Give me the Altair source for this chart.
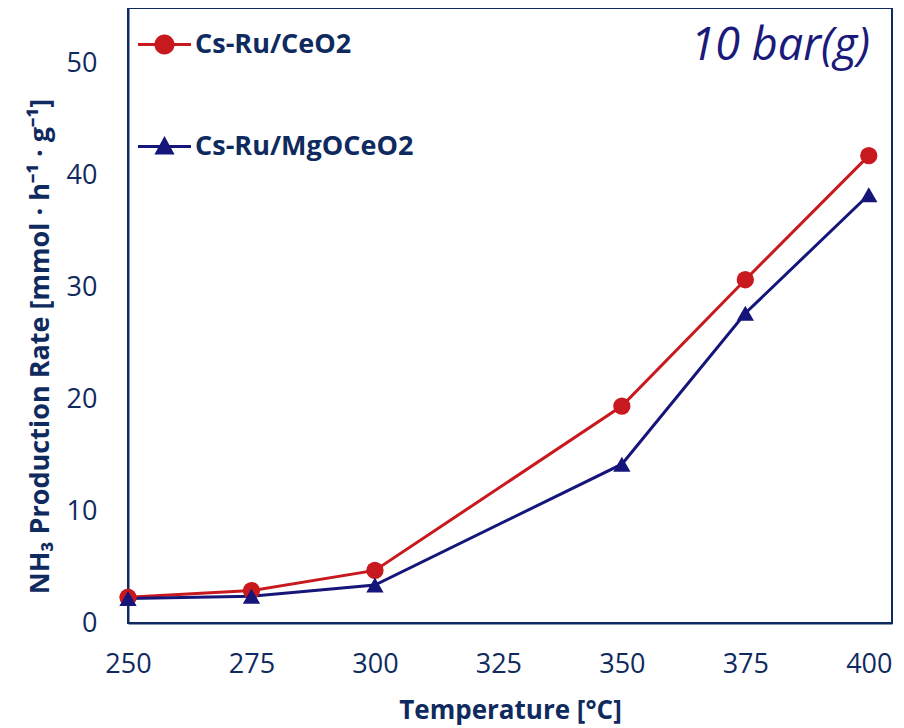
import altair as alt
import pandas as pd

temps = [250, 275, 300, 350, 375, 400]
ceo2 = [2.3, 2.9, 4.7, 19.4, 30.7, 41.8]
mgoceo2 = [2.2, 2.4, 3.4, 14.2, 27.7, 38.3]
series = ["Cs-Ru/CeO2", "Cs-Ru/MgOCeO2"]
x_ticks = [250, 275, 300, 325, 350, 375, 400]
y_ticks = [0, 10, 20, 30, 40, 50]

rows = []
for t, a, b in zip(temps, ceo2, mgoceo2):
    rows.append({"T": t, "rate": a, "series": series[0]})
    rows.append({"T": t, "rate": b, "series": series[1]})
df = pd.DataFrame(rows)

RED = "#C8191E"
NAVY = "#15157A"
TXT = "#0F2A5E"
FONT = "Open Sans"

xs = alt.X("T:Q", scale=alt.Scale(domain=[250, 404.7], nice=False, zero=False),
           axis=alt.Axis(values=x_ticks, title="Temperature [°C]", grid=False, ticks=False,
                         labelFlush=False, labelPadding=28, titlePadding=20, format="d"))
ys = alt.Y("rate:Q", scale=alt.Scale(domain=[0, 55], nice=False),
           axis=alt.Axis(values=y_ticks, title="NH₃  Production Rate [mmol · h⁻¹ · g⁻¹]",
                         grid=False, ticks=False, labelPadding=31, titlePadding=12,
                         titleY=338, titleFontSize=27))
col = alt.Color("series:N", scale=alt.Scale(domain=series, range=[RED, NAVY]), legend=None)

lines = alt.Chart(df).mark_line(strokeWidth=3).encode(x=xs, y=ys, color=col, order=alt.Order("T:Q"))
pts = alt.Chart(df).mark_point(filled=True, opacity=1, size=300).encode(
    x=xs, y=ys, color=col,
    shape=alt.Shape("series:N", scale=alt.Scale(domain=series, range=["circle", "triangle-up"]), legend=None),
)

circ_path = ("M-1,-0.06 L1,-0.06 L1,0.06 L-1,0.06 Z "
             "M0.38,0 A0.38,0.38 0 1,1 -0.38,0 A0.38,0.38 0 1,1 0.38,0 Z")
tri_path = ("M-1,-0.06 L1,-0.06 L1,0.06 L-1,0.06 Z "
            "M0,-0.4 L0.38,0.3 L-0.38,0.3 Z")

def make_legend():
    return alt.Legend(title=None, orient="none", legendX=10, legendY=10,
                      symbolOpacity=1, symbolSize=2809, symbolStrokeWidth=0,
                      labelFontSize=27, labelFontWeight="bold", labelColor=TXT,
                      labelFont=FONT, rowPadding=62, labelOffset=4, labelLimit=0)

leg = alt.Chart(df).mark_point(filled=True, opacity=0, size=2809).encode(
    x=xs, y=ys,
    fill=alt.Fill("series:N", scale=alt.Scale(domain=series, range=[RED, NAVY]), legend=make_legend()),
    shape=alt.Shape("series:N", scale=alt.Scale(domain=series, range=[circ_path, tri_path]),
                    legend=make_legend()),
)

note = alt.Chart(pd.DataFrame({"t": ["10 bar(g)"]})).mark_text(
    font=FONT, fontSize=45, fontStyle="italic", color="#1A1A7A", align="right", baseline="alphabetic"
).encode(text="t:N", x=alt.value(742), y=alt.value(52))

chart = alt.layer(lines, pts, leg, note).resolve_scale(shape="independent", color="independent", fill="independent").properties(
    width=764, height=615,
    autosize=alt.AutoSizeParams(type="none"),
    padding={"left": 120, "top": 0, "right": 4, "bottom": 102},
).configure_view(stroke=TXT, strokeWidth=2).configure_axis(
    labelFont=FONT, titleFont=FONT, labelFontSize=27, titleFontSize=26, labelColor=TXT,
    titleColor=TXT, titleFontWeight="bold", domainColor=TXT, domainWidth=2,
)

chart.save("out.html", embed_options={"renderer": "svg", "actions": False})
